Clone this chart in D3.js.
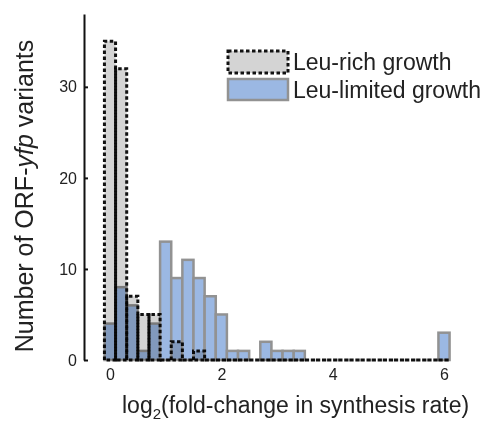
<!DOCTYPE html>
<html>
<head>
<meta charset="utf-8">
<script src="https://cdn.jsdelivr.net/npm/d3@7"></script>
<style>
  body { margin: 0; background: #fff; }
  svg { display: block; font-family: "Liberation Sans", Arial, sans-serif; }
</style>
</head>
<body>
<script>
// bin centres of the histogram, log2 fold-change
var binCenters = [0.0, 0.2, 0.4, 0.6, 0.8, 1.0, 1.2, 1.4, 1.6, 1.8,
                  2.0, 2.2, 2.4, 2.6, 2.8, 3.0, 3.2, 3.4, 3.6, 3.8,
                  4.0, 4.2, 4.4, 4.6, 4.8, 5.0, 5.2, 5.4, 5.6, 5.8, 6.0];
var binWidth = 0.2;

// counts per bin
var leuRich    = [35, 32, 7, 5, 5, 0, 2, 0, 1, 0,
                  0, 0, 0, 0, 0, 0, 0, 0, 0, 0,
                  0, 0, 0, 0, 0, 0, 0, 0, 0, 0, 0];
var leuLimited = [4, 8, 6, 1, 4, 13, 9, 11, 9, 7,
                  5, 1, 1, 0, 2, 1, 1, 1, 0, 0,
                  0, 0, 0, 0, 0, 0, 0, 0, 0, 0, 3];

var seriesNames = ["Leu-rich growth", "Leu-limited growth"];
var xTicks = [0, 2, 4, 6];
var yTicks = [0, 10, 20, 30];

var width = 483,
    height = 423;

var svg = d3.select("body")
    .append("svg")
    .attr("width", width)
    .attr("height", height);

var x = d3.scaleLinear().domain([0, 6]).range([110, 444]);
var y = d3.scaleLinear().domain([0, 38]).range([360, 14]);

//leu-limited bars (drawn first)
svg.append("g")
    .selectAll("rect")
    .data(binCenters)
    .enter()
    .append("rect")
    .attr("x", function(d){ return x(d - binWidth / 2); })
    .attr("width", function(d){ return x(d + binWidth / 2) - x(d - binWidth / 2); })
    .attr("y", function(d, i){ return y(leuLimited[i]); })
    .attr("height", function(d, i){ return y(0) - y(leuLimited[i]); })
    .attr("fill", "#9bb8e3")
    .attr("stroke", "#929292")
    .attr("stroke-width", 2.5);

//leu-rich bars, multiplied on top, dashed outlines
svg.append("g")
    .selectAll("path")
    .data(binCenters)
    .enter()
    .append("path")
    .attr("d", function(d, i){
        var x0 = x(d - binWidth / 2), x1 = x(d + binWidth / 2);
        return "M" + x0 + "," + y(0) + "V" + y(leuRich[i]) + "H" + x1 + "V" + y(0) + "Z";
    })
    .attr("fill", "#d4d4d4")
    .attr("stroke", "#111")
    .attr("stroke-width", 3)
    .attr("stroke-dasharray", "3.5,2.5")
    .style("mix-blend-mode", "multiply");

//y axis
var yAxis = svg.append("g")
    .attr("transform", "translate(84,0)")
    .call(d3.axisLeft(y).tickValues(yTicks).tickFormat(d3.format("d"))
        .tickSizeInner(-4).tickSizeOuter(0).tickPadding(7));
yAxis.select(".domain").attr("stroke", "#111").attr("stroke-width", 2);
yAxis.selectAll(".tick line").attr("stroke", "#111").attr("stroke-width", 2);
yAxis.selectAll("text").attr("font-size", 16).attr("fill", "#222")
    .attr("font-family", "Liberation Sans, Arial, sans-serif");

//x axis (labels only)
var xAxis = svg.append("g")
    .attr("transform", "translate(0,360)")
    .call(d3.axisBottom(x).tickValues(xTicks).tickFormat(d3.format("d"))
        .tickSize(0).tickPadding(9));
xAxis.select(".domain").remove();
xAxis.selectAll("text").attr("font-size", 16).attr("fill", "#222")
    .attr("font-family", "Liberation Sans, Arial, sans-serif");

//axis titles
var xt = svg.append("text")
    .attr("x", 122)
    .attr("y", 413)
    .attr("font-size", 23)
    .attr("fill", "#222");
xt.append("tspan").text("log");
xt.append("tspan").attr("font-size", 15).attr("dy", 6).text("2");
xt.append("tspan").attr("dy", -6).text("(fold-change in synthesis rate)");

var yt = svg.append("text")
    .attr("transform", "translate(33,196) rotate(-90)")
    .attr("text-anchor", "middle")
    .attr("font-size", 25)
    .attr("fill", "#222");
yt.append("tspan").text("Number of ORF-");
yt.append("tspan").attr("font-style", "italic").text("yfp");
yt.append("tspan").text(" variants");

//legend
var legend = svg.append("g");
legend.append("rect")
    .attr("x", 228).attr("y", 51).attr("width", 60).attr("height", 22)
    .attr("fill", "#d4d4d4").attr("stroke", "#111")
    .attr("stroke-width", 3).attr("stroke-dasharray", "3.5,2.5");
legend.append("rect")
    .attr("x", 228).attr("y", 79).attr("width", 60).attr("height", 21)
    .attr("fill", "#9bb8e3").attr("stroke", "#929292").attr("stroke-width", 2.5);
legend.selectAll(".lbl")
    .data(seriesNames)
    .enter()
    .append("text")
    .attr("class", "lbl")
    .attr("x", 293)
    .attr("y", function(d, i){ return 62 + i * 28; })
    .attr("dy", "0.35em")
    .attr("font-size", 23)
    .attr("fill", "#222")
    .text(function(d){ return d; });
</script>
</body>
</html>
